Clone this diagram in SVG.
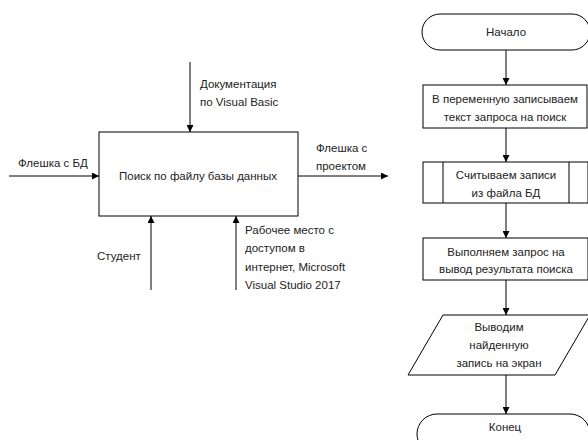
<svg xmlns="http://www.w3.org/2000/svg" width="588" height="440" viewBox="0 0 588 440">
<defs>
<marker id="ah" viewBox="0 0 10 10" refX="10" refY="5" markerWidth="7" markerHeight="7" markerUnits="userSpaceOnUse" orient="auto">
<path d="M0,0 L10,5 L0,10 z" fill="#000"/>
</marker>
<style>
.s{fill:#fff;stroke:#000;stroke-width:1}
.c{stroke:#000;stroke-width:1;fill:none;marker-end:url(#ah)}
text{font-family:"Liberation Sans",Arial,sans-serif;font-size:11.5px;fill:#222}
.m{text-anchor:middle}
</style>
</defs>
<rect width="588" height="440" fill="#fff"/>
<g id="connectors">
<line class="c" x1="190" y1="62" x2="190" y2="132"/>
<line class="c" x1="9" y1="176" x2="99" y2="176"/>
<line class="c" x1="298" y1="176" x2="388" y2="176"/>
<line class="c" x1="151" y1="290" x2="151" y2="216"/>
<line class="c" x1="236" y1="290" x2="236" y2="216"/>
<line class="c" x1="506" y1="50" x2="506" y2="85"/>
<line class="c" x1="506" y1="128" x2="506" y2="162"/>
<line class="c" x1="506" y1="203" x2="506" y2="238"/>
<line class="c" x1="506" y1="280" x2="506" y2="315"/>
<line class="c" x1="506" y1="375" x2="506" y2="414"/>
</g>
<g id="process">
<rect class="s" x="99" y="132" width="199" height="84"/>
<text class="m" x="198" y="180">Поиск по файлу базы данных</text>
</g>
<g id="labels">
<text x="200" y="88">Документация</text>
<text x="200" y="106">по Visual Basic</text>
<text x="18" y="167">Флешка с БД</text>
<text x="316" y="152">Флешка с</text>
<text x="316" y="170">проектом</text>
<text x="97" y="260">Студент</text>
<text x="245" y="234">Рабочее место с</text>
<text x="245" y="252">доступом в</text>
<text x="245" y="271">интернет, Microsoft</text>
<text x="245" y="289">Visual Studio 2017</text>
</g>
<g id="start">
<rect class="s" x="422" y="14" width="168" height="36" rx="18" ry="18"/>
<text class="m" x="506" y="36">Начало</text>
</g>
<g id="step1">
<rect class="s" x="423" y="85" width="164" height="43"/>
<text class="m" x="505" y="103">В переменную записываем</text>
<text class="m" x="505" y="121">текст запроса на поиск</text>
</g>
<g id="step2">
<rect class="s" x="423" y="162" width="165" height="41"/>
<line class="s" x1="443" y1="162" x2="443" y2="203"/>
<line class="s" x1="569" y1="162" x2="569" y2="203"/>
<text class="m" x="506" y="179">Считываем записи</text>
<text class="m" x="506" y="197">из файла БД</text>
</g>
<g id="step3">
<rect class="s" x="423" y="238" width="165" height="42"/>
<text class="m" x="506" y="256">Выполняем запрос на</text>
<text class="m" x="506" y="273">вывод результата поиска</text>
</g>
<g id="output">
<polygon class="s" points="443,315 590,315 555,375 408,375"/>
<text class="m" x="499" y="331">Выводим</text>
<text class="m" x="499" y="349">найденную</text>
<text class="m" x="499" y="367">запись на экран</text>
</g>
<g id="end">
<rect class="s" x="417" y="414" width="173" height="40" rx="20" ry="20"/>
<text class="m" x="505" y="431">Конец</text>
</g>
</svg>
